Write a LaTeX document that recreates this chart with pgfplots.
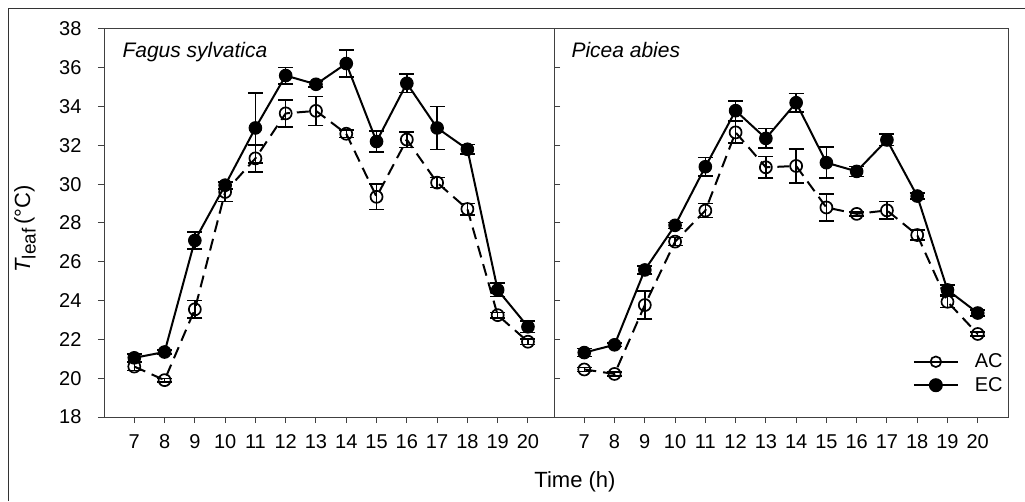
\documentclass[border=0pt]{standalone}
\usepackage{pgfplots}
\usepackage{pgfplotstable}
\pgfplotsset{compat=1.18}
\usepackage{fontspec}
\setmainfont{Liberation Sans}

\pgfplotstableread{
x y e
7 21.05 0.2
8 21.35 0.1
9 27.1 0.43
10 29.95 0.2
11 32.9 1.8
12 35.6 0.43
13 35.15 0.15
14 36.22 0.7
15 32.2 0.55
16 35.2 0.48
17 32.9 1.1
18 31.8 0.25
19 24.55 0.35
20 22.65 0.3
}\fagusEC

\pgfplotstableread{
x y e
7 20.6 0.2
8 19.9 0.1
9 23.55 0.45
10 29.6 0.5
11 31.33 0.7
12 33.65 0.7
13 33.78 0.75
14 32.6 0.2
15 29.35 0.66
16 32.3 0.4
17 30.08 0.25
18 28.72 0.3
19 23.25 0.15
20 21.88 0.15
}\fagusAC

\pgfplotstableread{
x y e
7 21.32 0.2
8 21.72 0.1
9 25.58 0.2
10 27.88 0.15
11 30.9 0.47
12 33.79 0.5
13 32.36 0.5
14 34.2 0.48
15 31.11 0.8
16 30.66 0.25
17 32.28 0.3
18 29.39 0.15
19 24.55 0.25
20 23.36 0.15
}\piceaEC

\pgfplotstableread{
x y e
7 20.45 0.1
8 20.22 0.1
9 23.77 0.72
10 27.04 0.2
11 28.64 0.35
12 32.67 0.55
13 30.87 0.55
14 30.94 0.87
15 28.8 0.7
16 28.47 0.1
17 28.65 0.45
18 27.38 0.25
19 23.94 0.3
20 22.28 0.1
}\piceaAC

\pgfplotsset{
  panel/.style={
    scale only axis, height=388pt, ymin=18, ymax=38,
    axis line style={black!75, line width=1pt},
    every tick/.style={black!75, line width=1pt},
    tick align=outside, major tick length=6pt,
    xtick={7,...,20}, xtick pos=bottom,
    ytick={18,20,...,38},
    tick label style={font=\fontsize{20}{21}\selectfont},
    xticklabel style={yshift=-8pt},
    yticklabel style={xshift=-13pt},
    /pgf/number format/assume math mode=true,
  },
  acstyle/.style={black, line width=2pt, dash pattern=on 12pt off 7pt,
    mark=o, mark size=6pt, mark options={solid, line width=1.7pt},
    error bars/y dir=both, error bars/y explicit,
    error bars/error bar style={solid, line width=1.4pt},
    error bars/error mark options={solid, rotate=90, mark size=7.5pt, line width=1.4pt}},
  ecstyle/.style={black, line width=2pt, solid,
    mark=*, mark size=6.3pt, mark options={solid, fill=black, line width=1pt},
    error bars/y dir=both, error bars/y explicit,
    error bars/error bar style={solid, line width=1.4pt},
    error bars/error mark options={solid, rotate=90, mark size=7.5pt, line width=1.4pt}},
}

\begin{document}
\begin{tikzpicture}
\useasboundingbox (0,0) rectangle (1025pt,501pt);
\draw[black!80, line width=1pt] (8.5pt,0pt) -- (8.5pt,492.5pt) -- (1025pt,492.5pt);

\begin{axis}[panel, at={(104pt,84pt)}, anchor=south west, width=450pt,
  xmin=6, xmax=20.86, ytick pos=both]
\addplot[acstyle] table[x=x, y=y, y error=e] {\fagusAC};
\addplot[ecstyle] table[x=x, y=y, y error=e] {\fagusEC};
\end{axis}

\begin{axis}[panel, at={(554pt,84pt)}, anchor=south west, width=454pt,
  xmin=6, xmax=21, ytick=\empty,
  legend style={draw=none, fill=none, at={(0.79,0.168)}, anchor=north west,
    font=\fontsize{20}{21}\selectfont, row sep=4pt, inner sep=0pt,
    /tikz/every odd column/.append style={column sep=14pt}},
  legend cell align=left,
  legend image code/.code={\draw[#1, mark repeat=2, mark phase=2] plot coordinates {(0pt,0pt) (22pt,0pt) (44pt,0pt)};}]
\addplot[acstyle, forget plot] table[x=x, y=y, y error=e] {\piceaAC};
\addplot[ecstyle, forget plot] table[x=x, y=y, y error=e] {\piceaEC};
\addlegendimage{black, line width=2pt, solid, mark=o, mark size=5.3pt, mark options={line width=1.7pt}}
\addlegendentry{AC}
\addlegendimage{black, line width=2pt, solid, mark=*, mark size=6pt, mark options={fill=black}}
\addlegendentry{EC}
\end{axis}

\node[anchor=base west, font=\fontsize{21}{22}\selectfont\itshape] at (119pt,443pt) {Fagus sylvatica};
\node[anchor=base west, font=\fontsize{21}{22}\selectfont\itshape] at (568pt,443pt) {Picea abies};
\node[font=\fontsize{22}{24}\selectfont] at (575pt,19pt) {Time (h)};
\node[rotate=90, font=\fontsize{22}{24}\selectfont] at (25pt,272pt) {{\itshape T}\raisebox{-0.25em}{\fontsize{19}{19}\selectfont leaf}\,(°C)};
\end{tikzpicture}
\end{document}
